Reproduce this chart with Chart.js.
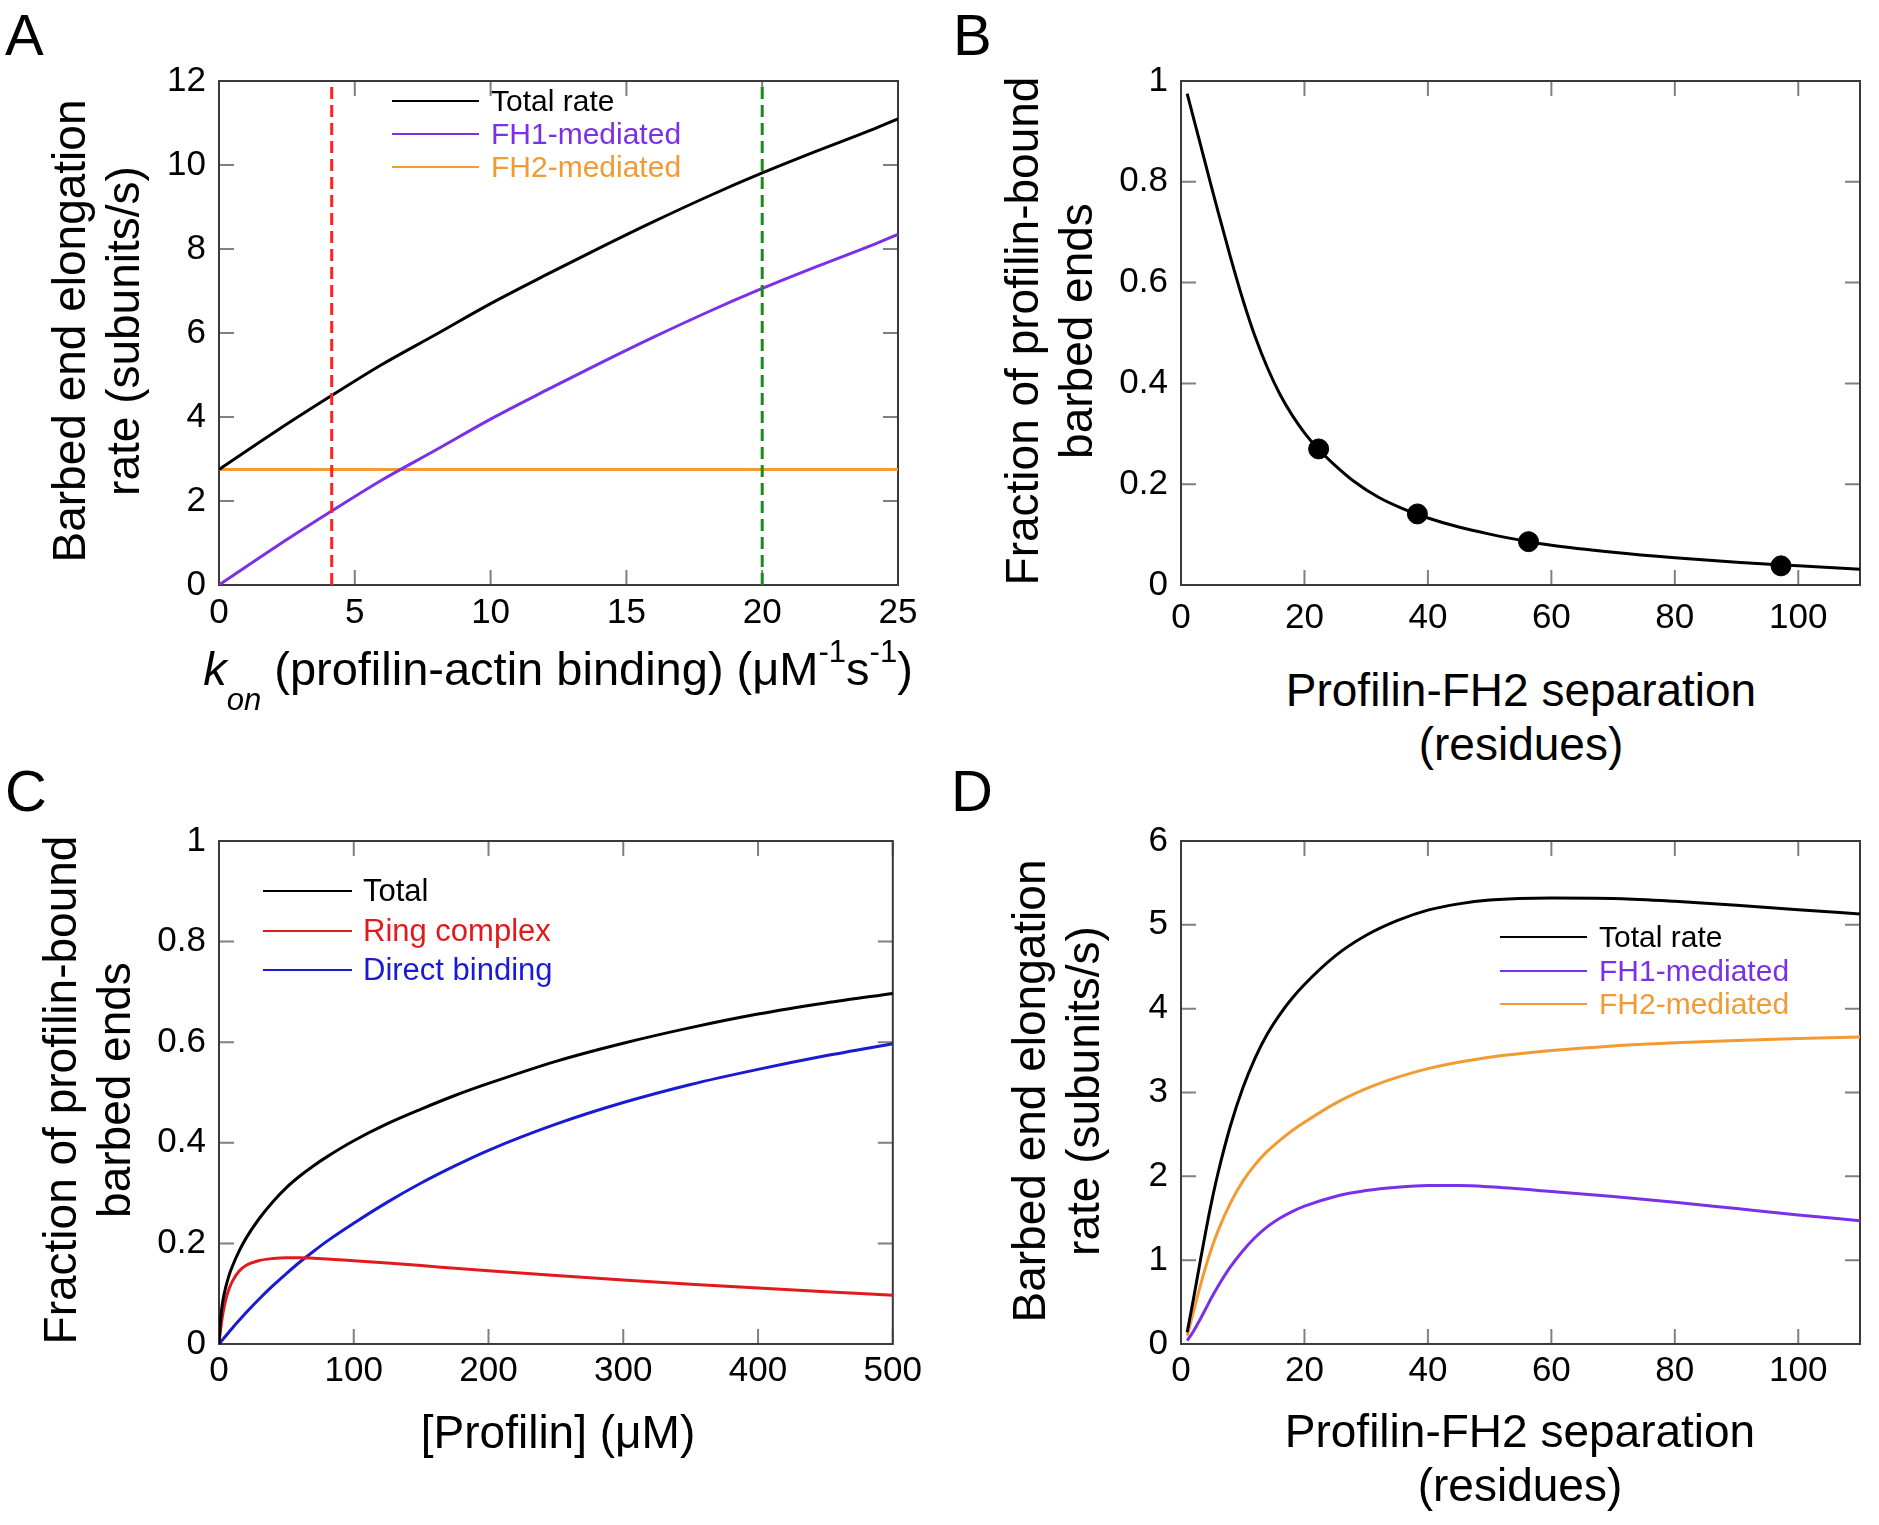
<!DOCTYPE html>
<html><head><meta charset="utf-8">
<script src="https://cdn.jsdelivr.net/npm/chart.js@4.4.0/dist/chart.umd.min.js"></script>
<style>
html,body{margin:0;padding:0;background:#fff;}
body{width:1879px;height:1525px;position:relative;overflow:hidden;font-family:'Liberation Sans',Arial,sans-serif;color:#000;}
.cw{position:absolute;}
.lbl{position:absolute;font-size:58px;line-height:58px;}
.ytitle{position:absolute;font-size:46px;line-height:54px;text-align:center;white-space:nowrap;transform:rotate(-90deg);}
.xtitle{position:absolute;font-size:46px;line-height:54px;text-align:center;white-space:nowrap;}
.legrow{position:absolute;line-height:34px;white-space:nowrap;}
.legln{position:absolute;height:2.5px;}
</style></head>
<body>
<script>
// ---------------- DATA ----------------
// Panel A
const aKon   = [0, 2, 4, 6, 8, 10, 12, 14, 16, 18, 20, 22, 24, 25];
const aTotal = [2.75, 3.62, 4.45, 5.25, 5.97, 6.70, 7.37, 8.02, 8.65, 9.25, 9.81, 10.33, 10.83, 11.10];
const aFH1   = [0, 0.87, 1.70, 2.50, 3.22, 3.95, 4.62, 5.27, 5.90, 6.50, 7.06, 7.58, 8.08, 8.35];
const aFH2   = [2.75, 2.75, 2.75, 2.75, 2.75, 2.75, 2.75, 2.75, 2.75, 2.75, 2.75, 2.75, 2.75, 2.75];
const aRedLineX = 4.15;
const aGreenLineX = 20;
const aXTicks = [0, 5, 10, 15, 20, 25];
const aYTicks = [0, 2, 4, 6, 8, 10, 12];
const aLegend = ['Total rate', 'FH1-mediated', 'FH2-mediated'];

// Panel B
const bSep  = [1, 2, 3, 4, 5, 6, 8, 10, 12, 14, 16, 18, 20, 22, 25, 28, 32, 36, 40, 45, 50, 56, 60, 70, 80, 90, 100, 110];
const bFrac = [0.975, 0.928, 0.881, 0.834, 0.787, 0.741, 0.651, 0.567, 0.493, 0.431, 0.379, 0.337, 0.302, 0.273, 0.237, 0.206, 0.174, 0.151, 0.133, 0.115, 0.101, 0.087, 0.079, 0.065, 0.054, 0.045, 0.038, 0.031];
const bDotX = [22.3, 38.3, 56.3, 97.2];
const bDotY = [0.27, 0.141, 0.086, 0.038];
const bXTicks = [0, 20, 40, 60, 80, 100];
const bYTicks = [0, 0.2, 0.4, 0.6, 0.8, 1];

// Panel C
const cProf   = [0, 1, 2, 3, 5, 7.5, 10, 15, 20, 30, 40, 50, 60, 70, 80, 100, 125, 150, 175, 200, 250, 300, 350, 400, 450, 500];
const cTotal  = [0, 0.045, 0.07, 0.088, 0.113, 0.137, 0.155, 0.185, 0.21, 0.25, 0.283, 0.311, 0.334, 0.354, 0.372, 0.404, 0.438, 0.467, 0.494, 0.518, 0.562, 0.598, 0.629, 0.656, 0.678, 0.697];
const cRing   = [0, 0.025, 0.045, 0.062, 0.088, 0.11, 0.125, 0.145, 0.156, 0.166, 0.170, 0.1715, 0.1715, 0.1705, 0.169, 0.1655, 0.161, 0.156, 0.1505, 0.1455, 0.136, 0.127, 0.119, 0.1115, 0.104, 0.097];
const cDirect = [0, 0.003, 0.0065, 0.0097, 0.016, 0.024, 0.032, 0.047, 0.062, 0.09, 0.116, 0.14, 0.163, 0.184, 0.204, 0.24, 0.282, 0.32, 0.354, 0.385, 0.437, 0.48, 0.516, 0.546, 0.573, 0.597];
const cXTicks = [0, 100, 200, 300, 400, 500];
const cYTicks = [0, 0.2, 0.4, 0.6, 0.8, 1];
const cLegend = ['Total', 'Ring complex', 'Direct binding'];

// Panel D
const dSep   = [1, 2, 3, 4, 5, 6, 8, 10, 12, 14, 16, 18, 20, 25, 30, 35, 40, 45, 50, 60, 70, 80, 90, 100, 110];
const dTotal = [0.14, 0.53, 0.94, 1.34, 1.71, 2.04, 2.60, 3.05, 3.41, 3.70, 3.93, 4.124, 4.289, 4.63, 4.875, 5.05, 5.175, 5.25, 5.295, 5.32, 5.315, 5.28, 5.235, 5.18, 5.13];
const dFH1   = [0.04, 0.15, 0.28, 0.42, 0.56, 0.69, 0.92, 1.11, 1.27, 1.40, 1.50, 1.58, 1.645, 1.76, 1.83, 1.87, 1.89, 1.89, 1.875, 1.82, 1.76, 1.69, 1.615, 1.54, 1.47];
const dFH2   = [0.1, 0.38, 0.66, 0.92, 1.15, 1.35, 1.68, 1.94, 2.14, 2.30, 2.43, 2.544, 2.644, 2.87, 3.045, 3.18, 3.285, 3.36, 3.42, 3.50, 3.555, 3.592, 3.62, 3.643, 3.663];
const dXTicks = [0, 20, 40, 60, 80, 100];
const dYTicks = [0, 1, 2, 3, 4, 5, 6];
const dLegend = ['Total rate', 'FH1-mediated', 'FH2-mediated'];

// ---------------- STYLE ----------------
const COL = {black:'#000000', fh1:'#7a30e8', fh2:'#f39a32', ring:'#e31a1c', direct:'#1a1ad4', red:'#ff2020', green:'#1a8a1a'};
const LW = 3;
const TICK_LEN = 15;
const TICK_FONT = 35;

Chart.defaults.font.family = "'Liberation Sans', Arial, sans-serif";
Chart.defaults.color = '#000';

const pts = (xs, ys) => xs.map((x, i) => ({x: x, y: ys[i]}));
const line = (data, color, extra) => Object.assign({data: data, borderColor: color, backgroundColor: color, borderWidth: LW, pointRadius: 0, fill: false, cubicInterpolationMode: 'monotone'}, extra || {});

const boxTicks = {
  id: 'boxTicks',
  beforeDatasetsDraw(chart) {
    const {ctx, chartArea: a, scales: {x, y}} = chart;
    ctx.save();
    ctx.strokeStyle = '#808080';
    ctx.lineWidth = 2;
    ctx.beginPath();
    x.ticks.forEach(t => {
      const px = x.getPixelForValue(t.value);
      ctx.moveTo(px, a.bottom); ctx.lineTo(px, a.bottom - TICK_LEN);
      ctx.moveTo(px, a.top); ctx.lineTo(px, a.top + TICK_LEN);
    });
    y.ticks.forEach(t => {
      const py = y.getPixelForValue(t.value);
      ctx.moveTo(a.left, py); ctx.lineTo(a.left + TICK_LEN, py);
      ctx.moveTo(a.right, py); ctx.lineTo(a.right - TICK_LEN, py);
    });
    ctx.stroke();
    ctx.strokeStyle = '#3a3a3a';
    ctx.lineWidth = 2;
    ctx.strokeRect(a.left, a.top, a.right - a.left, a.bottom - a.top);
    ctx.restore();
  }
};

function makeChart(box, datasets, xr, yr, xTicks, yTicks) {
  const padL = 130, padT = 30, padR = box.padR, padB = 60;
  const W = box.r - box.l + padL + padR, H = box.b - box.t + padT + padB;
  const div = document.createElement('div');
  div.className = 'cw';
  div.style.left = (box.l - padL) + 'px';
  div.style.top = (box.t - padT) + 'px';
  const c = document.createElement('canvas');
  c.width = W; c.height = H; c.style.width = W + 'px'; c.style.height = H + 'px';
  div.appendChild(c);
  document.body.appendChild(div);
  new Chart(c, {
    type: 'line',
    data: {datasets: datasets},
    options: {
      responsive: false, animation: false, devicePixelRatio: 1,
      layout: {padding: {left: 0, top: padT, right: padR, bottom: 0}},
      plugins: {legend: {display: false}, tooltip: {enabled: false}},
      scales: {
        x: {type: 'linear', min: xr[0], max: xr[1],
            grid: {display: false, drawTicks: false}, border: {display: false},
            afterBuildTicks: ax => { ax.ticks = xTicks.map(v => ({value: v})); },
            afterFit: ax => { ax.height = padB; },
            ticks: {autoSkip: false, maxRotation: 0, minRotation: 0, padding: box.xPad, color: '#000', font: {size: TICK_FONT}, callback: v => String(v)}},
        y: {type: 'linear', min: yr[0], max: yr[1],
            grid: {display: false, drawTicks: false}, border: {display: false},
            afterBuildTicks: ax => { ax.ticks = yTicks.map(v => ({value: v})); },
            afterFit: ax => { ax.width = padL; },
            ticks: {autoSkip: false, padding: 13, color: '#000', font: {size: TICK_FONT}, callback: v => String(v)}}
      }
    },
    plugins: [boxTicks]
  });
}

// Panel A
makeChart({l: 219, r: 898, t: 77, b: 585, padR: 30, xPad: 7}, [
  line(pts([aRedLineX, aRedLineX], [0, 12]), COL.red, {borderDash: [12, 6], borderWidth: 3, cubicInterpolationMode: 'default', tension: 0}),
  line(pts([aGreenLineX, aGreenLineX], [0, 12]), COL.green, {borderDash: [12, 6], borderWidth: 3, cubicInterpolationMode: 'default', tension: 0}),
  line(pts(aKon, aTotal), COL.black),
  line(pts(aKon, aFH1), COL.fh1),
  line(pts(aKon, aFH2), COL.fh2)
], [0, 25], [0, 12], aXTicks, aYTicks);

// Panel B
makeChart({l: 1181, r: 1860, t: 77, b: 585, padR: 18, xPad: 12}, [
  {type: 'scatter', data: pts(bDotX, bDotY), showLine: false, pointRadius: 10, pointBackgroundColor: '#000', pointBorderColor: '#000', backgroundColor: '#000', borderColor: '#000'},
  line(pts(bSep, bFrac), COL.black)
], [0, 110], [0, 1], bXTicks, bYTicks);

// Panel C
makeChart({l: 219, r: 898, t: 837, b: 1344, padR: 30, xPad: 6}, [
  line(pts(cProf, cTotal), COL.black),
  line(pts(cProf, cRing), COL.ring),
  line(pts(cProf, cDirect), COL.direct)
], [0, 500], [0, 1], cXTicks, cYTicks);

// Panel D
makeChart({l: 1181, r: 1860, t: 837, b: 1344, padR: 18, xPad: 6}, [
  line(pts(dSep, dTotal), COL.black),
  line(pts(dSep, dFH1), COL.fh1),
  line(pts(dSep, dFH2), COL.fh2)
], [0, 110], [0, 6], dXTicks, dYTicks);

// ---------------- TEXT ----------------
function addDiv(cls, html, style) {
  const d = document.createElement('div');
  d.className = cls;
  d.innerHTML = html;
  Object.assign(d.style, style);
  document.body.appendChild(d);
  return d;
}
// panel letters
[['A', 5, 6], ['B', 953, 6], ['C', 5, 762], ['D', 951, 762]].forEach(p => addDiv('lbl', p[0], {left: p[1] + 'px', top: p[2] + 'px'}));

// y titles (two lines, rotated)
function yTitle(l1, l2, cx, cy) {
  const w = 640, h = 108;
  addDiv('ytitle', l1 + '<br>' + l2, {left: (cx - w / 2) + 'px', top: (cy - h / 2) + 'px', width: w + 'px', height: h + 'px'});
}
yTitle('Barbed end elongation', 'rate (subunits/s)', 96, 331);
yTitle('Fraction of profilin-bound', 'barbed ends', 1049, 331);
yTitle('Fraction of profilin-bound', 'barbed ends', 87, 1090);
yTitle('Barbed end elongation', 'rate (subunits/s)', 1056, 1091);

// x titles
function xTitle(html, cx, capCenterY, fs) {
  const w = 900;
  const d = addDiv('xtitle', html, {left: (cx - w / 2) + 'px', top: (capCenterY - 27) + 'px', width: w + 'px'});
  if (fs) d.style.fontSize = fs + 'px';
}
xTitle('<i>k</i><i style="font-size:31px;position:relative;top:25px">on</i> (profilin-actin binding) (\u03bcM<span style="font-size:31px;position:relative;top:-23px">-1</span>s<span style="font-size:31px;position:relative;top:-23px">-1</span>)', 558, 669, 47);
xTitle('Profilin-FH2 separation<br>(residues)', 1521, 690);
xTitle('[Profilin] (\u03bcM)', 558, 1432);
xTitle('Profilin-FH2 separation<br>(residues)', 1520, 1431);

// legends
function legend(labels, colors, x1, x2, tx, ys, fs) {
  labels.forEach((lab, i) => {
    const ln = document.createElement('div');
    ln.className = 'legln';
    Object.assign(ln.style, {left: x1 + 'px', top: (ys[i] - 1.25) + 'px', width: (x2 - x1) + 'px', background: colors[i]});
    document.body.appendChild(ln);
    addDiv('legrow', lab, {left: tx + 'px', top: (ys[i] - 17) + 'px', color: i === 0 ? '#000' : colors[i], fontSize: fs + 'px'});
  });
}
legend(aLegend, [COL.black, COL.fh1, COL.fh2], 392, 479, 491, [101, 134, 167], 30);
legend(cLegend, [COL.black, COL.ring, COL.direct], 263, 352, 363, [891, 931, 970], 31);
legend(dLegend, [COL.black, COL.fh1, COL.fh2], 1500, 1587, 1599, [937, 971, 1004], 30);
</script>
</body></html>
